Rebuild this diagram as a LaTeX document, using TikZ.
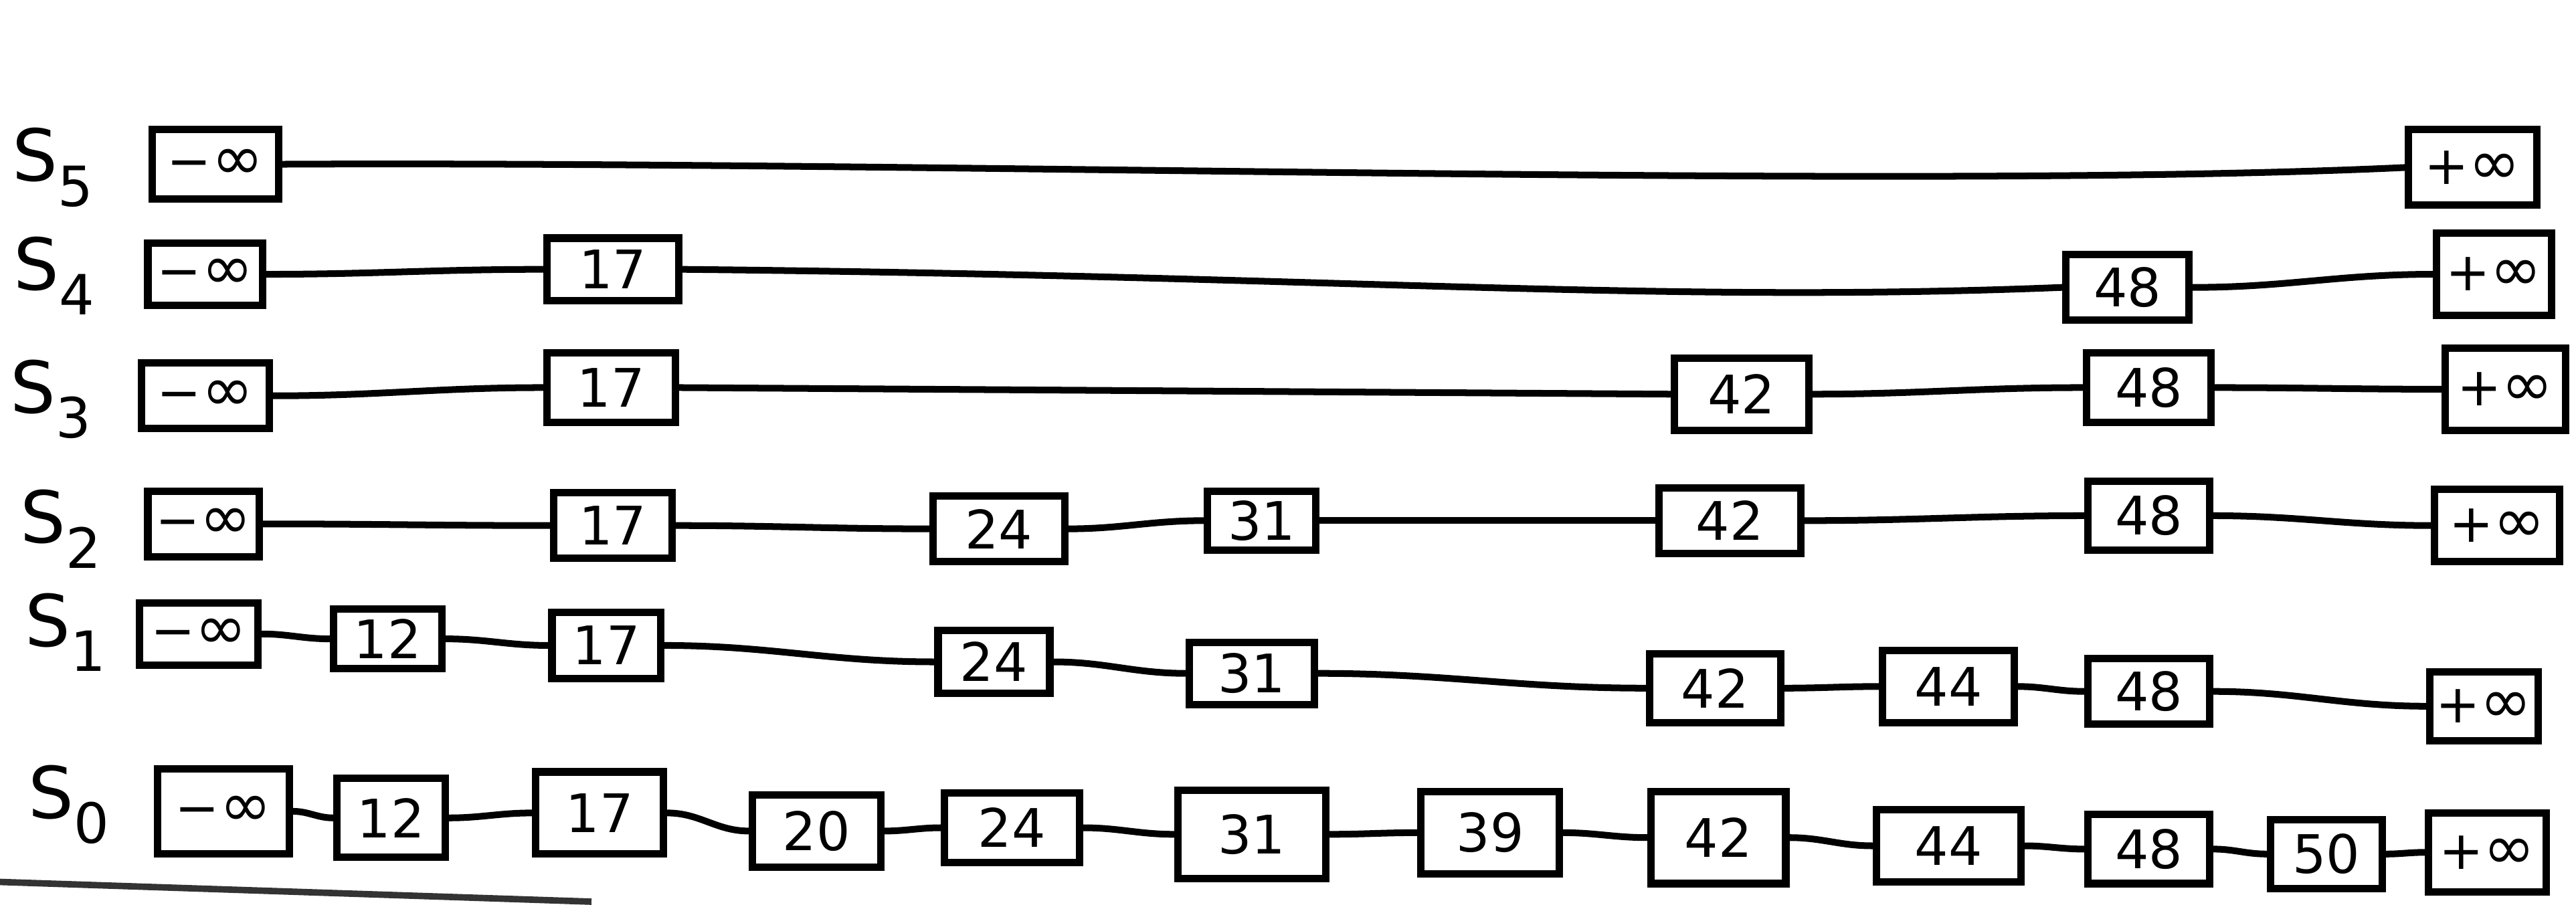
\documentclass[tikz,border=0pt]{standalone}
\usepackage{fontspec}
\setmainfont{DejaVu Sans}
\begin{document}
\begin{tikzpicture}[x=0.025cm,y=-0.025cm,
 nb/.style={draw, line width=3.2pt, inner sep=0pt, font=\fontsize{23}{23}\selectfont},
 lk/.style={line width=2.9pt, line cap=round},
 lab/.style={inner sep=0pt, font=\fontsize{31}{31}\selectfont}]
\useasboundingbox (0,0) rectangle (1568,551);
\newcommand\bx[6]{\node[nb, minimum width=#4*0.025cm, minimum height=#5*0.025cm] (#1) at (#2,#3) {#6};}
\newcommand\lbl[3]{\node[lab] (#1) at (#2) {S\raisebox{-0.35em}{\fontsize{24}{24}\selectfont #3}};}
\newcommand\minf{−{\fontsize{27}{27}\selectfont ∞}}
\newcommand\pinf{+{\fontsize{27}{27}\selectfont ∞}}
% labels
\lbl{l5}{32,102}{5}
\lbl{l4}{33,168}{4}
\lbl{l3}{31,243}{3}
\lbl{l2}{37,322}{2}
\lbl{l1}{40,385}{1}
\lbl{l0}{42,490}{0}
% S5
\bx{m5}{131}{100}{77}{42}{\minf}
\bx{p5}{1505}{102}{78}{46}{\pinf}
% S4
\bx{m4}{125}{167}{70}{38}{\minf}
\bx{a4}{373}{164}{80}{38}{17}
\bx{b4}{1295}{175}{75}{40}{48}
\bx{p4}{1518}{167}{70}{50}{\pinf}
% S3
\bx{m3}{125}{241}{78}{40}{\minf}
\bx{a3}{372}{236}{78}{42}{17}
\bx{c3}{1060}{240}{82}{44}{42}
\bx{b3}{1308}{236}{76}{42}{48}
\bx{p3}{1525}{237}{73}{50}{\pinf}
% S2
\bx{m2}{124}{319}{68}{40}{\minf}
\bx{a2}{373}{320}{72}{40}{17}
\bx{d2}{608}{322}{80}{40}{24}
\bx{e2}{768}{317}{66}{36}{31}
\bx{c2}{1053}{317}{86}{40}{42}
\bx{b2}{1308}{314}{74}{42}{48}
\bx{p2}{1520}{320}{76}{44}{\pinf}
% S1
\bx{m1}{121}{386}{72}{38}{\minf}
\bx{f1}{236}{389}{66}{36}{12}
\bx{a1}{369}{393}{66}{40}{17}
\bx{d1}{605}{403}{68}{38}{24}
\bx{e1}{762}{410}{76}{38}{31}
\bx{c1}{1044}{419}{80}{42}{42}
\bx{g1}{1186}{418}{80}{44}{44}
\bx{b1}{1308}{421}{74}{40}{48}
\bx{p1}{1512}{430}{66}{42}{\pinf}
% S0
\bx{m0}{136}{494}{80}{52}{\minf}
\bx{f0}{238}{498}{66}{48}{12}
\bx{a0}{365}{495}{78}{50}{17}
\bx{h0}{497}{506}{78}{44}{20}
\bx{d0}{616}{504}{82}{42}{24}
\bx{e0}{762}{508}{90}{54}{31}
\bx{i0}{907}{507}{84}{50}{39}
\bx{c0}{1046}{510}{82}{56}{42}
\bx{g0}{1186}{515}{88}{44}{44}
\bx{b0}{1308}{517}{74}{42}{48}
\bx{j0}{1416}{520}{68}{42}{50}
\bx{p0}{1514}{519}{72}{48}{\pinf}
% connectors
\draw[lk] (m5.east) .. controls +(400,-2) and +(-300,14) .. (p5.west);
\draw[lk] (m4.east) to[out=0,in=180] (a4.west);
\draw[lk] (a4.east) .. controls +(400,4) and +(-250,10) .. (b4.west);
\draw[lk] (b4.east) to[out=0,in=180] (p4.west);
\draw[lk] (m3.east) to[out=0,in=180] (a3.west);
\draw[lk] (a3.east) .. controls +(300,2) and +(-300,-2) .. (c3.west);
\draw[lk] (c3.east) to[out=0,in=180] (b3.west);
\draw[lk] (b3.east) to[out=0,in=180] (p3.west);
\draw[lk] (m2.east) to[out=0,in=180] (a2.west);
\draw[lk] (a2.east) to[out=0,in=180] (d2.west);
\draw[lk] (d2.east) to[out=0,in=180] (e2.west);
\draw[lk] (e2.east) to[out=0,in=180] (c2.west);
\draw[lk] (c2.east) to[out=0,in=180] (b2.west);
\draw[lk] (b2.east) to[out=0,in=180] (p2.west);
\draw[lk] (m1.east) to[out=0,in=180] (f1.west);
\draw[lk] (f1.east) to[out=0,in=180] (a1.west);
\draw[lk] (a1.east) to[out=0,in=180] (d1.west);
\draw[lk] (d1.east) to[out=0,in=180] (e1.west);
\draw[lk] (e1.east) to[out=0,in=180] (c1.west);
\draw[lk] (c1.east) to[out=0,in=180] (g1.west);
\draw[lk] (g1.east) to[out=0,in=180] (b1.west);
\draw[lk] (b1.east) to[out=0,in=180] (p1.west);
\draw[lk] (m0.east) to[out=0,in=180] (f0.west);
\draw[lk] (f0.east) to[out=0,in=180] (a0.west);
\draw[lk] (a0.east) to[out=0,in=180] (h0.west);
\draw[lk] (h0.east) to[out=0,in=180] (d0.west);
\draw[lk] (d0.east) to[out=0,in=180] (e0.west);
\draw[lk] (e0.east) to[out=0,in=180] (i0.west);
\draw[lk] (i0.east) to[out=0,in=180] (c0.west);
\draw[lk] (c0.east) to[out=0,in=180] (g0.west);
\draw[lk] (g0.east) to[out=0,in=180] (b0.west);
\draw[lk] (b0.east) to[out=0,in=180] (j0.west);
\draw[lk] (j0.east) to[out=0,in=180] (p0.west);
% bottom rule
\coordinate (r1) at (0,537);
\coordinate (r2) at (360,549);
\draw[line width=2.8pt, black!80] (r1) -- (r2);
\end{tikzpicture}
\end{document}
